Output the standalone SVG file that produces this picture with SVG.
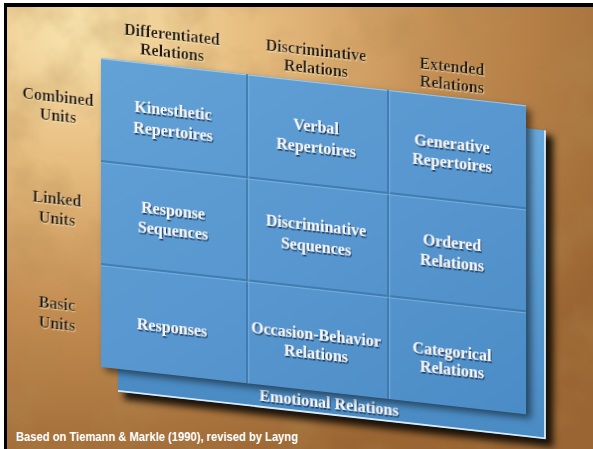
<svg xmlns="http://www.w3.org/2000/svg" width="593" height="449" viewBox="0 0 593 449">
  <defs>
    <radialGradient id="parch" cx="0.12" cy="0.05" r="1.05">
      <stop offset="0" stop-color="#f8e3ad"/>
      <stop offset="0.3" stop-color="#e6bb7e"/>
      <stop offset="0.6" stop-color="#c38d52"/>
      <stop offset="1" stop-color="#9a6532"/>
    </radialGradient>
    <filter id="paper" x="0" y="0" width="1" height="1">
      <feTurbulence type="fractalNoise" baseFrequency="0.018" numOctaves="4" seed="7" result="n"/>
      <feColorMatrix in="n" type="matrix" values="0 0 0 0 0.42  0 0 0 0 0.25  0 0 0 0 0.08  1.6 0 0 0 -0.7"/>
    </filter>
    <linearGradient id="front" x1="0" y1="0" x2="1" y2="1">
      <stop offset="0" stop-color="#62a2d6"/>
      <stop offset="0.5" stop-color="#5897cf"/>
      <stop offset="1" stop-color="#4c8cc6"/>
    </linearGradient>
    <linearGradient id="back" x1="0" y1="0" x2="0" y2="1">
      <stop offset="0" stop-color="#66a8dc"/>
      <stop offset="1" stop-color="#4a8bc4"/>
    </linearGradient>
    <filter id="blur4" x="-10%" y="-10%" width="130%" height="130%">
      <feGaussianBlur stdDeviation="3.5"/>
    </filter>
    <filter id="tshadow" x="-10%" y="-30%" width="130%" height="170%">
      <feDropShadow dx="1" dy="1.6" stdDeviation="0.7" flood-color="#10263f" flood-opacity="0.85"/>
    </filter>
    <filter id="hshadow" x="-10%" y="-30%" width="130%" height="170%">
      <feDropShadow dx="0.8" dy="1.2" stdDeviation="0.6" flood-color="#fff0c8" flood-opacity="0.6"/>
    </filter>
  </defs>
  <style>
    .cell { font-family: "Liberation Serif", "DejaVu Serif", serif; font-weight: bold; font-size: 16px; fill: #f3f6fa; text-anchor: middle; filter: url(#tshadow); }
    .head { font-family: "Liberation Serif", "DejaVu Serif", serif; font-weight: bold; font-size: 16px; fill: #22170c; text-anchor: middle; filter: url(#hshadow); }
    .box { fill: none; stroke: none; }
    .gd { stroke: #3a74a8; stroke-width: 2; opacity: 0.75; fill: none; }
    .gl { stroke: #8cc0e6; stroke-width: 1; opacity: 0.55; fill: none; }
    .cap { font-family: "Liberation Sans", Arial, sans-serif; font-weight: bold; font-size: 13px; fill: #ffffff; }
  </style>

  <rect x="0" y="0" width="593" height="449" fill="#ffffff"/>
  <rect x="4" y="3" width="589" height="446" fill="#000000"/>
  <rect x="7" y="7" width="586" height="442" fill="url(#parch)"/>
  <rect x="7" y="7" width="586" height="442" filter="url(#paper)" opacity="0.5"/>

  <g transform="matrix(1 0.111 0 1 0 -11.211)">
    <!-- back panel -->
    <g id="emotional-relations">
      <rect x="124" y="86" width="429" height="311" fill="#000" opacity="0.85" filter="url(#blur4)"/>
      <rect x="118" y="81" width="427" height="308.5" fill="url(#back)"/>
      <path d="M118 389 H545 V81" fill="none" stroke="#d6ebf8" stroke-width="1.8"/>
      <text class="cell" x="329" y="383.5">Emotional Relations</text>
    </g>

    <!-- front panel -->
    <g id="panel">
      <rect x="105" y="62" width="426" height="309" fill="#000" opacity="0.5" filter="url(#blur4)"/>
      <rect x="101" y="58" width="425" height="309" fill="url(#front)"/>
      <path d="M101 58.6 H526" stroke="#a9d1ef" stroke-width="1.2" opacity="0.8"/>
    </g>

    <g id="grid">
      <path class="gd" d="M247 58 V367 M388 58 V367 M101 161 H526 M101 264 H526"/>
      <path class="gl" d="M248.8 58 V367 M389.8 58 V367 M101 162.8 H526 M101 265.8 H526"/>
    </g>

    <!-- column headers -->
    <g id="col-differentiated">
      <text class="head" x="172" y="32">Differentiated</text>
      <text class="head" x="172" y="50">Relations</text>
    </g>
    <g id="col-discriminative">
      <text class="head" x="316" y="32">Discriminative</text>
      <text class="head" x="316" y="50">Relations</text>
    </g>
    <g id="col-extended">
      <text class="head" x="452" y="33">Extended</text>
      <text class="head" x="452" y="51">Relations</text>
    </g>

    <!-- row headers -->
    <g id="row-combined">
      <text class="head" x="58" y="107">Combined</text>
      <text class="head" x="58" y="126">Units</text>
    </g>
    <g id="row-linked">
      <text class="head" x="57" y="209">Linked</text>
      <text class="head" x="57" y="229">Units</text>
    </g>
    <g id="row-basic">
      <text class="head" x="57" y="314">Basic</text>
      <text class="head" x="57" y="334">Units</text>
    </g>

    <!-- cells -->
    <g id="cell-kinesthetic">
      <rect class="box" x="101" y="58" width="146" height="103"/>
      <text class="cell" x="173" y="108.5">Kinesthetic</text>
      <text class="cell" x="173" y="129.5">Repertoires</text>
    </g>
    <g id="cell-verbal">
      <rect class="box" x="247" y="58" width="141" height="103"/>
      <text class="cell" x="316" y="108.5">Verbal</text>
      <text class="cell" x="316" y="129.5">Repertoires</text>
    </g>
    <g id="cell-generative">
      <rect class="box" x="388" y="58" width="138" height="103"/>
      <text class="cell" x="452" y="110.5">Generative</text>
      <text class="cell" x="452" y="129.5">Repertoires</text>
    </g>
    <g id="cell-response-sequences">
      <rect class="box" x="101" y="161" width="146" height="103"/>
      <text class="cell" x="173" y="208">Response</text>
      <text class="cell" x="173" y="228.5">Sequences</text>
    </g>
    <g id="cell-discriminative-sequences">
      <rect class="box" x="247" y="161" width="141" height="103"/>
      <text class="cell" x="316" y="207">Discriminative</text>
      <text class="cell" x="316" y="228">Sequences</text>
    </g>
    <g id="cell-ordered">
      <rect class="box" x="388" y="161" width="138" height="103"/>
      <text class="cell" x="452" y="209.5">Ordered</text>
      <text class="cell" x="452" y="229.5">Relations</text>
    </g>
    <g id="cell-responses">
      <rect class="box" x="101" y="264" width="146" height="103"/>
      <text class="cell" x="172" y="325.5">Responses</text>
    </g>
    <g id="cell-occasion-behavior">
      <rect class="box" x="247" y="264" width="141" height="103"/>
      <text class="cell" x="316" y="316.5">Occasion-Behavior</text>
      <text class="cell" x="316" y="335.5">Relations</text>
    </g>
    <g id="cell-categorical">
      <rect class="box" x="388" y="264" width="138" height="103"/>
      <text class="cell" x="452" y="318.5">Categorical</text>
      <text class="cell" x="452" y="336.5">Relations</text>
    </g>
  </g>

  <g id="connectors"/>

  <text class="cap" x="16" y="441" textLength="282" lengthAdjust="spacingAndGlyphs">Based on Tiemann &amp; Markle (1990), revised by Layng</text>
</svg>
